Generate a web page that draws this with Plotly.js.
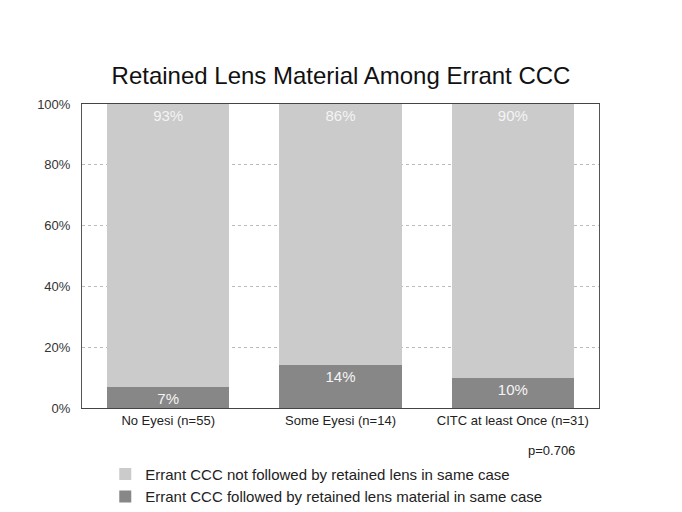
<!DOCTYPE html>
<html>
<head>
<meta charset="utf-8">
<script src="https://cdn.plot.ly/plotly-3.0.1.min.js"></script>
<style>
  body { margin: 0; background: #fff; }
  #plot1 { width: 682px; height: 512px; }
</style>
</head>
<body>
<div id="plot1"></div>
<script>
// categories on the x axis
let groups = ['No Eyesi (n=55)', 'Some Eyesi (n=14)', 'CITC at least Once (n=31)'];

// percent of errant CCC followed by retained lens material
let retained = [7, 14, 10];

// percent of errant CCC not followed by retained lens
let notRetained = [93, 86, 90];

let yTicks = [0, 20, 40, 60, 80, 100];
let yTickText = ['0%', '20%', '40%', '60%', '80%', '100%'];

// bottom part of each bar
let trace1 = {
    x: groups,
    y: retained,
    type: 'bar',
    name: 'Errant CCC followed by retained lens material in same case',
    marker: {color: '#878787'},
    text: retained.map(v => v + '%'),
    textposition: 'inside',
    insidetextanchor: 'end',
    textangle: 0,
    textfont: {color: '#f4f4f4', size: 15},
    hoverinfo: 'none'
};

// top part of each bar
let trace2 = {
    x: groups,
    y: notRetained,
    type: 'bar',
    name: 'Errant CCC not followed by retained lens in same case',
    marker: {color: '#cbcbcb'},
    text: notRetained.map(v => v + '%'),
    textposition: 'inside',
    insidetextanchor: 'end',
    textangle: 0,
    textfont: {color: '#f4f4f4', size: 15},
    hoverinfo: 'none'
};

var data = [trace1, trace2];

var layout = {
    width: 682,
    height: 512,
    margin: {l: 82, r: 83, t: 104, b: 104},
    paper_bgcolor: '#fff',
    plot_bgcolor: '#fff',
    font: {family: 'Liberation Sans, Arial, sans-serif', color: '#222', size: 13},
    title: {
        text: 'Retained Lens Material Among Errant CCC',
        font: {size: 24, color: '#111'},
        x: 0.5,
        xanchor: 'center',
        y: 0.853,
        yanchor: 'middle'
    },
    barmode: 'stack',
    bargap: 0.29,
    uniformtext: {mode: 'show', minsize: 15},
    xaxis: {
        showline: true,
        linecolor: '#444',
        linewidth: 1,
        mirror: true,
        ticks: '',
        tickfont: {size: 13, color: '#222'},
        fixedrange: true
    },
    yaxis: {
        range: [0, 100],
        tickvals: yTicks,
        ticktext: yTickText,
        showline: true,
        linecolor: '#555',
        linewidth: 1,
        mirror: true,
        showgrid: true,
        gridcolor: '#bbb',
        griddash: 'dot',
        gridwidth: 1,
        zeroline: false,
        ticks: '',
        ticklen: 0,
        ticklabelstandoff: 8,
        tickfont: {size: 13, color: '#333'},
        fixedrange: true
    },
    showlegend: true,
    legend: {
        x: 0.045,
        xanchor: 'left',
        yref: 'container',
        y: 0.106,
        yanchor: 'top',
        traceorder: 'reversed',
        font: {size: 15, color: '#222'},
        itemsizing: 'constant',
        itemwidth: 30,
        tracegroupgap: 0,
        bgcolor: 'rgba(0,0,0,0)'
    },
    annotations: [{
        text: 'p=0.706',
        xref: 'paper',
        yref: 'paper',
        x: 0.958,
        y: -0.141,
        xanchor: 'right',
        yanchor: 'middle',
        showarrow: false,
        font: {size: 13, color: '#222'}
    }]
};

Plotly.newPlot('plot1', data, layout, {displayModeBar: false, staticPlot: true});
</script>
</body>
</html>
